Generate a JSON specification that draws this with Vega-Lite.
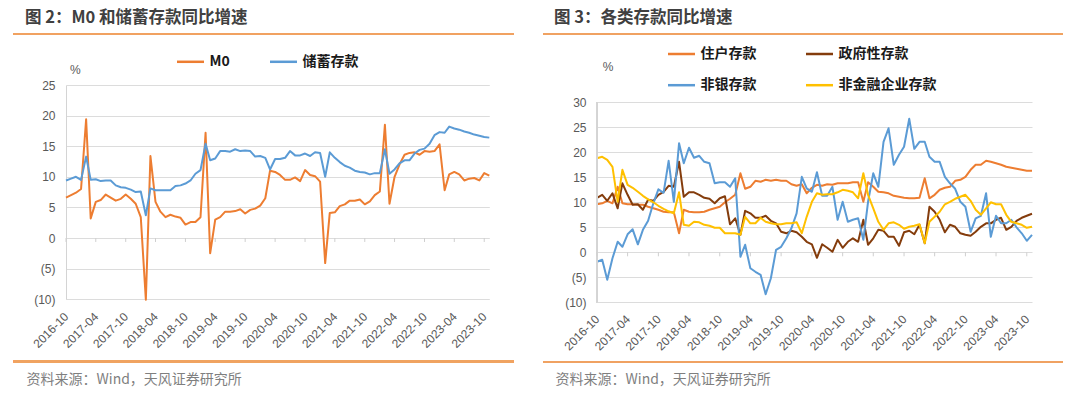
{
"$schema": "https://vega.github.io/schema/vega-lite/v6.json",
"background": "white",
"padding": {"left": 13, "top": 9, "right": 0, "bottom": 0},
"spacing": 27,
"align": "none",
"resolve": {"scale": {"color": "independent", "x": "independent", "y": "independent"}, "legend": {"color": "independent"}},
"config": {
  "view": {"stroke": null},
  "axis": {"labelFont": "Liberation Sans", "labelFontSize": 12, "labelColor": "#595959"},
  "title": {"font": "Noto Sans CJK SC", "fontSize": 16.5, "fontWeight": "bold", "color": "#404040", "anchor": "start", "baseline": "alphabetic", "offset": 7}
},
"datasets": {
"L": [
{"d":"2016-10","s":"M0","v":6.6},{"d":"2016-11","s":"M0","v":7.0},{"d":"2016-12","s":"M0","v":7.4},{"d":"2017-01","s":"M0","v":8.0},{"d":"2017-02","s":"M0","v":19.4},{"d":"2017-03","s":"M0","v":3.2},{"d":"2017-04","s":"M0","v":5.9},{"d":"2017-05","s":"M0","v":6.2},{"d":"2017-06","s":"M0","v":7.1},{"d":"2017-07","s":"M0","v":6.6},
{"d":"2017-08","s":"M0","v":6.1},{"d":"2017-09","s":"M0","v":6.4},{"d":"2017-10","s":"M0","v":7.1},{"d":"2017-11","s":"M0","v":6.4},{"d":"2017-12","s":"M0","v":5.6},{"d":"2018-01","s":"M0","v":3.4},{"d":"2018-02","s":"M0","v":-10.1},{"d":"2018-03","s":"M0","v":13.4},{"d":"2018-04","s":"M0","v":5.9},{"d":"2018-05","s":"M0","v":4.3},
{"d":"2018-06","s":"M0","v":3.4},{"d":"2018-07","s":"M0","v":3.8},{"d":"2018-08","s":"M0","v":3.5},{"d":"2018-09","s":"M0","v":3.3},{"d":"2018-10","s":"M0","v":2.2},{"d":"2018-11","s":"M0","v":2.6},{"d":"2018-12","s":"M0","v":2.6},{"d":"2019-01","s":"M0","v":3.4},{"d":"2019-02","s":"M0","v":17.2},{"d":"2019-03","s":"M0","v":-2.5},
{"d":"2019-04","s":"M0","v":3.0},{"d":"2019-05","s":"M0","v":3.4},{"d":"2019-06","s":"M0","v":4.3},{"d":"2019-07","s":"M0","v":4.3},{"d":"2019-08","s":"M0","v":4.4},{"d":"2019-09","s":"M0","v":4.7},{"d":"2019-10","s":"M0","v":4.0},{"d":"2019-11","s":"M0","v":4.6},{"d":"2019-12","s":"M0","v":4.8},{"d":"2020-01","s":"M0","v":5.3},
{"d":"2020-02","s":"M0","v":6.5},{"d":"2020-03","s":"M0","v":11.0},{"d":"2020-04","s":"M0","v":10.8},{"d":"2020-05","s":"M0","v":10.3},{"d":"2020-06","s":"M0","v":9.5},{"d":"2020-07","s":"M0","v":9.5},{"d":"2020-08","s":"M0","v":9.9},{"d":"2020-09","s":"M0","v":9.3},{"d":"2020-10","s":"M0","v":11.1},{"d":"2020-11","s":"M0","v":10.3},
{"d":"2020-12","s":"M0","v":10.1},{"d":"2021-01","s":"M0","v":9.2},{"d":"2021-02","s":"M0","v":-4.1},{"d":"2021-03","s":"M0","v":4.1},{"d":"2021-04","s":"M0","v":4.2},{"d":"2021-05","s":"M0","v":5.2},{"d":"2021-06","s":"M0","v":5.5},{"d":"2021-07","s":"M0","v":6.1},{"d":"2021-08","s":"M0","v":6.1},{"d":"2021-09","s":"M0","v":6.3},
{"d":"2021-10","s":"M0","v":5.5},{"d":"2021-11","s":"M0","v":6.0},{"d":"2021-12","s":"M0","v":7.0},{"d":"2022-01","s":"M0","v":7.6},{"d":"2022-02","s":"M0","v":18.5},{"d":"2022-03","s":"M0","v":5.6},{"d":"2022-04","s":"M0","v":10.0},{"d":"2022-05","s":"M0","v":12.0},{"d":"2022-06","s":"M0","v":13.6},{"d":"2022-07","s":"M0","v":13.9},
{"d":"2022-08","s":"M0","v":14.0},{"d":"2022-09","s":"M0","v":13.6},{"d":"2022-10","s":"M0","v":14.2},{"d":"2022-11","s":"M0","v":14.1},{"d":"2022-12","s":"M0","v":14.2},{"d":"2023-01","s":"M0","v":15.3},{"d":"2023-02","s":"M0","v":7.8},{"d":"2023-03","s":"M0","v":10.4},{"d":"2023-04","s":"M0","v":10.8},{"d":"2023-05","s":"M0","v":10.4},
{"d":"2023-06","s":"M0","v":9.4},{"d":"2023-07","s":"M0","v":9.7},{"d":"2023-08","s":"M0","v":9.8},{"d":"2023-09","s":"M0","v":9.4},{"d":"2023-10","s":"M0","v":10.6},{"d":"2023-11","s":"M0","v":10.2},
{"d":"2016-10","s":"储蓄存款","v":9.4},{"d":"2016-11","s":"储蓄存款","v":9.7},{"d":"2016-12","s":"储蓄存款","v":10.0},{"d":"2017-01","s":"储蓄存款","v":9.5},{"d":"2017-02","s":"储蓄存款","v":13.3},{"d":"2017-03","s":"储蓄存款","v":9.5},{"d":"2017-04","s":"储蓄存款","v":9.6},{"d":"2017-05","s":"储蓄存款","v":9.3},{"d":"2017-06","s":"储蓄存款","v":9.4},{"d":"2017-07","s":"储蓄存款","v":9.4},
{"d":"2017-08","s":"储蓄存款","v":8.6},{"d":"2017-09","s":"储蓄存款","v":8.3},{"d":"2017-10","s":"储蓄存款","v":8.2},{"d":"2017-11","s":"储蓄存款","v":7.9},{"d":"2017-12","s":"储蓄存款","v":7.5},{"d":"2018-01","s":"储蓄存款","v":7.6},{"d":"2018-02","s":"储蓄存款","v":3.7},{"d":"2018-03","s":"储蓄存款","v":8.1},{"d":"2018-04","s":"储蓄存款","v":7.8},{"d":"2018-05","s":"储蓄存款","v":7.8},
{"d":"2018-06","s":"储蓄存款","v":7.8},{"d":"2018-07","s":"储蓄存款","v":7.8},{"d":"2018-08","s":"储蓄存款","v":8.5},{"d":"2018-09","s":"储蓄存款","v":8.6},{"d":"2018-10","s":"储蓄存款","v":8.9},{"d":"2018-11","s":"储蓄存款","v":9.4},{"d":"2018-12","s":"储蓄存款","v":10.5},{"d":"2019-01","s":"储蓄存款","v":11.1},{"d":"2019-02","s":"储蓄存款","v":15.4},{"d":"2019-03","s":"储蓄存款","v":12.7},
{"d":"2019-04","s":"储蓄存款","v":13.0},{"d":"2019-05","s":"储蓄存款","v":14.2},{"d":"2019-06","s":"储蓄存款","v":14.2},{"d":"2019-07","s":"储蓄存款","v":14.1},{"d":"2019-08","s":"储蓄存款","v":14.5},{"d":"2019-09","s":"储蓄存款","v":14.2},{"d":"2019-10","s":"储蓄存款","v":14.3},{"d":"2019-11","s":"储蓄存款","v":14.2},{"d":"2019-12","s":"储蓄存款","v":13.3},{"d":"2020-01","s":"储蓄存款","v":13.4},
{"d":"2020-02","s":"储蓄存款","v":13.1},{"d":"2020-03","s":"储蓄存款","v":11.2},{"d":"2020-04","s":"储蓄存款","v":12.9},{"d":"2020-05","s":"储蓄存款","v":12.9},{"d":"2020-06","s":"储蓄存款","v":13.1},{"d":"2020-07","s":"储蓄存款","v":14.2},{"d":"2020-08","s":"储蓄存款","v":13.5},{"d":"2020-09","s":"储蓄存款","v":13.5},{"d":"2020-10","s":"储蓄存款","v":13.8},{"d":"2020-11","s":"储蓄存款","v":13.4},
{"d":"2020-12","s":"储蓄存款","v":14.0},{"d":"2021-01","s":"储蓄存款","v":13.9},{"d":"2021-02","s":"储蓄存款","v":10.0},{"d":"2021-03","s":"储蓄存款","v":14.0},{"d":"2021-04","s":"储蓄存款","v":13.1},{"d":"2021-05","s":"储蓄存款","v":12.4},{"d":"2021-06","s":"储蓄存款","v":11.8},{"d":"2021-07","s":"储蓄存款","v":11.5},{"d":"2021-08","s":"储蓄存款","v":11.0},{"d":"2021-09","s":"储蓄存款","v":10.8},
{"d":"2021-10","s":"储蓄存款","v":10.7},{"d":"2021-11","s":"储蓄存款","v":10.4},{"d":"2021-12","s":"储蓄存款","v":10.6},{"d":"2022-01","s":"储蓄存款","v":10.6},{"d":"2022-02","s":"储蓄存款","v":14.5},{"d":"2022-03","s":"储蓄存款","v":10.5},{"d":"2022-04","s":"储蓄存款","v":11.2},{"d":"2022-05","s":"储蓄存款","v":12.2},{"d":"2022-06","s":"储蓄存款","v":12.7},{"d":"2022-07","s":"储蓄存款","v":12.7},
{"d":"2022-08","s":"储蓄存款","v":13.8},{"d":"2022-09","s":"储蓄存款","v":14.4},{"d":"2022-10","s":"储蓄存款","v":14.6},{"d":"2022-11","s":"储蓄存款","v":15.4},{"d":"2022-12","s":"储蓄存款","v":16.8},{"d":"2023-01","s":"储蓄存款","v":17.3},{"d":"2023-02","s":"储蓄存款","v":17.2},{"d":"2023-03","s":"储蓄存款","v":18.2},{"d":"2023-04","s":"储蓄存款","v":17.9},{"d":"2023-05","s":"储蓄存款","v":17.7},
{"d":"2023-06","s":"储蓄存款","v":17.4},{"d":"2023-07","s":"储蓄存款","v":17.2},{"d":"2023-08","s":"储蓄存款","v":16.9},{"d":"2023-09","s":"储蓄存款","v":16.7},{"d":"2023-10","s":"储蓄存款","v":16.5},{"d":"2023-11","s":"储蓄存款","v":16.4}
],
"R": [
{"d":"2016-10","s":"住户存款","v":9.6},{"d":"2016-11","s":"住户存款","v":9.8},{"d":"2016-12","s":"住户存款","v":10.3},{"d":"2017-01","s":"住户存款","v":9.8},{"d":"2017-02","s":"住户存款","v":13.1},{"d":"2017-03","s":"住户存款","v":9.8},{"d":"2017-04","s":"住户存款","v":9.6},{"d":"2017-05","s":"住户存款","v":9.6},{"d":"2017-06","s":"住户存款","v":9.5},{"d":"2017-07","s":"住户存款","v":9.5},
{"d":"2017-08","s":"住户存款","v":9.1},{"d":"2017-09","s":"住户存款","v":8.8},{"d":"2017-10","s":"住户存款","v":8.5},{"d":"2017-11","s":"住户存款","v":8.1},{"d":"2017-12","s":"住户存款","v":8.0},{"d":"2018-01","s":"住户存款","v":8.0},{"d":"2018-02","s":"住户存款","v":3.8},{"d":"2018-03","s":"住户存款","v":8.5},{"d":"2018-04","s":"住户存款","v":8.1},{"d":"2018-05","s":"住户存款","v":8.0},
{"d":"2018-06","s":"住户存款","v":8.0},{"d":"2018-07","s":"住户存款","v":8.1},{"d":"2018-08","s":"住户存款","v":8.5},{"d":"2018-09","s":"住户存款","v":8.8},{"d":"2018-10","s":"住户存款","v":9.1},{"d":"2018-11","s":"住户存款","v":10.0},{"d":"2018-12","s":"住户存款","v":10.7},{"d":"2019-01","s":"住户存款","v":11.5},{"d":"2019-02","s":"住户存款","v":15.8},{"d":"2019-03","s":"住户存款","v":12.7},
{"d":"2019-04","s":"住户存款","v":13.1},{"d":"2019-05","s":"住户存款","v":14.3},{"d":"2019-06","s":"住户存款","v":14.1},{"d":"2019-07","s":"住户存款","v":14.5},{"d":"2019-08","s":"住户存款","v":14.3},{"d":"2019-09","s":"住户存款","v":14.5},{"d":"2019-10","s":"住户存款","v":14.3},{"d":"2019-11","s":"住户存款","v":14.3},{"d":"2019-12","s":"住户存款","v":13.6},{"d":"2020-01","s":"住户存款","v":13.3},
{"d":"2020-02","s":"住户存款","v":13.6},{"d":"2020-03","s":"住户存款","v":11.8},{"d":"2020-04","s":"住户存款","v":12.9},{"d":"2020-05","s":"住户存款","v":13.5},{"d":"2020-06","s":"住户存款","v":13.3},{"d":"2020-07","s":"住户存款","v":13.6},{"d":"2020-08","s":"住户存款","v":13.5},{"d":"2020-09","s":"住户存款","v":13.8},{"d":"2020-10","s":"住户存款","v":13.8},{"d":"2020-11","s":"住户存款","v":13.8},
{"d":"2020-12","s":"住户存款","v":14.0},{"d":"2021-01","s":"住户存款","v":14.0},{"d":"2021-02","s":"住户存款","v":10.1},{"d":"2021-03","s":"住户存款","v":14.0},{"d":"2021-04","s":"住户存款","v":13.1},{"d":"2021-05","s":"住户存款","v":12.1},{"d":"2021-06","s":"住户存款","v":12.0},{"d":"2021-07","s":"住户存款","v":11.8},{"d":"2021-08","s":"住户存款","v":11.3},{"d":"2021-09","s":"住户存款","v":11.1},
{"d":"2021-10","s":"住户存款","v":10.9},{"d":"2021-11","s":"住户存款","v":10.8},{"d":"2021-12","s":"住户存款","v":10.8},{"d":"2022-01","s":"住户存款","v":10.9},{"d":"2022-02","s":"住户存款","v":14.8},{"d":"2022-03","s":"住户存款","v":10.8},{"d":"2022-04","s":"住户存款","v":11.5},{"d":"2022-05","s":"住户存款","v":12.5},{"d":"2022-06","s":"住户存款","v":12.9},{"d":"2022-07","s":"住户存款","v":13.1},
{"d":"2022-08","s":"住户存款","v":14.3},{"d":"2022-09","s":"住户存款","v":14.5},{"d":"2022-10","s":"住户存款","v":15.1},{"d":"2022-11","s":"住户存款","v":16.5},{"d":"2022-12","s":"住户存款","v":17.5},{"d":"2023-01","s":"住户存款","v":17.5},{"d":"2023-02","s":"住户存款","v":18.3},{"d":"2023-03","s":"住户存款","v":18.1},{"d":"2023-04","s":"住户存款","v":17.8},{"d":"2023-05","s":"住户存款","v":17.5},
{"d":"2023-06","s":"住户存款","v":17.1},{"d":"2023-07","s":"住户存款","v":16.9},{"d":"2023-08","s":"住户存款","v":16.7},{"d":"2023-09","s":"住户存款","v":16.5},{"d":"2023-10","s":"住户存款","v":16.3},{"d":"2023-11","s":"住户存款","v":16.3},
{"d":"2016-10","s":"政府性存款","v":10.9},{"d":"2016-11","s":"政府性存款","v":11.5},{"d":"2016-12","s":"政府性存款","v":10.3},{"d":"2017-01","s":"政府性存款","v":11.8},{"d":"2017-02","s":"政府性存款","v":8.8},{"d":"2017-03","s":"政府性存款","v":13.8},{"d":"2017-04","s":"政府性存款","v":11.5},{"d":"2017-05","s":"政府性存款","v":9.5},{"d":"2017-06","s":"政府性存款","v":9.6},{"d":"2017-07","s":"政府性存款","v":8.5},
{"d":"2017-08","s":"政府性存款","v":10.5},{"d":"2017-09","s":"政府性存款","v":10.3},{"d":"2017-10","s":"政府性存款","v":11.5},{"d":"2017-11","s":"政府性存款","v":12.1},{"d":"2017-12","s":"政府性存款","v":13.3},{"d":"2018-01","s":"政府性存款","v":13.1},{"d":"2018-02","s":"政府性存款","v":18.1},{"d":"2018-03","s":"政府性存款","v":11.1},{"d":"2018-04","s":"政府性存款","v":12.0},{"d":"2018-05","s":"政府性存款","v":12.0},
{"d":"2018-06","s":"政府性存款","v":11.5},{"d":"2018-07","s":"政府性存款","v":10.9},{"d":"2018-08","s":"政府性存款","v":10.7},{"d":"2018-09","s":"政府性存款","v":9.8},{"d":"2018-10","s":"政府性存款","v":10.8},{"d":"2018-11","s":"政府性存款","v":11.2},{"d":"2018-12","s":"政府性存款","v":5.6},{"d":"2019-01","s":"政府性存款","v":6.8},{"d":"2019-02","s":"政府性存款","v":3.5},{"d":"2019-03","s":"政府性存款","v":8.3},
{"d":"2019-04","s":"政府性存款","v":7.8},{"d":"2019-05","s":"政府性存款","v":6.9},{"d":"2019-06","s":"政府性存款","v":6.9},{"d":"2019-07","s":"政府性存款","v":7.3},{"d":"2019-08","s":"政府性存款","v":6.3},{"d":"2019-09","s":"政府性存款","v":5.8},{"d":"2019-10","s":"政府性存款","v":4.1},{"d":"2019-11","s":"政府性存款","v":3.8},{"d":"2019-12","s":"政府性存款","v":4.3},{"d":"2020-01","s":"政府性存款","v":4.0},
{"d":"2020-02","s":"政府性存款","v":3.1},{"d":"2020-03","s":"政府性存款","v":2.1},{"d":"2020-04","s":"政府性存款","v":1.6},{"d":"2020-05","s":"政府性存款","v":-1.1},{"d":"2020-06","s":"政府性存款","v":1.6},{"d":"2020-07","s":"政府性存款","v":0.9},{"d":"2020-08","s":"政府性存款","v":0.1},{"d":"2020-09","s":"政府性存款","v":2.5},{"d":"2020-10","s":"政府性存款","v":0.9},{"d":"2020-11","s":"政府性存款","v":2.1},
{"d":"2020-12","s":"政府性存款","v":2.8},{"d":"2021-01","s":"政府性存款","v":2.1},{"d":"2021-02","s":"政府性存款","v":6.5},{"d":"2021-03","s":"政府性存款","v":1.5},{"d":"2021-04","s":"政府性存款","v":2.8},{"d":"2021-05","s":"政府性存款","v":4.5},{"d":"2021-06","s":"政府性存款","v":4.3},{"d":"2021-07","s":"政府性存款","v":3.1},{"d":"2021-08","s":"政府性存款","v":3.1},{"d":"2021-09","s":"政府性存款","v":1.3},
{"d":"2021-10","s":"政府性存款","v":4.0},{"d":"2021-11","s":"政府性存款","v":4.3},{"d":"2021-12","s":"政府性存款","v":3.6},{"d":"2022-01","s":"政府性存款","v":5.5},{"d":"2022-02","s":"政府性存款","v":1.8},{"d":"2022-03","s":"政府性存款","v":9.1},{"d":"2022-04","s":"政府性存款","v":8.1},{"d":"2022-05","s":"政府性存款","v":6.5},{"d":"2022-06","s":"政府性存款","v":4.0},{"d":"2022-07","s":"政府性存款","v":5.5},
{"d":"2022-08","s":"政府性存款","v":5.1},{"d":"2022-09","s":"政府性存款","v":3.8},{"d":"2022-10","s":"政府性存款","v":3.5},{"d":"2022-11","s":"政府性存款","v":3.3},{"d":"2022-12","s":"政府性存款","v":4.1},{"d":"2023-01","s":"政府性存款","v":5.1},{"d":"2023-02","s":"政府性存款","v":5.8},{"d":"2023-03","s":"政府性存款","v":5.8},{"d":"2023-04","s":"政府性存款","v":6.5},{"d":"2023-05","s":"政府性存款","v":6.9},
{"d":"2023-06","s":"政府性存款","v":4.5},{"d":"2023-07","s":"政府性存款","v":5.1},{"d":"2023-08","s":"政府性存款","v":6.3},{"d":"2023-09","s":"政府性存款","v":6.9},{"d":"2023-10","s":"政府性存款","v":7.3},{"d":"2023-11","s":"政府性存款","v":7.7},
{"d":"2016-10","s":"非银存款","v":-1.9},{"d":"2016-11","s":"非银存款","v":-1.5},{"d":"2016-12","s":"非银存款","v":-5.5},{"d":"2017-01","s":"非银存款","v":-1.2},{"d":"2017-02","s":"非银存款","v":2.1},{"d":"2017-03","s":"非银存款","v":1.1},{"d":"2017-04","s":"非银存款","v":3.6},{"d":"2017-05","s":"非银存款","v":4.6},{"d":"2017-06","s":"非银存款","v":1.6},{"d":"2017-07","s":"非银存款","v":4.5},
{"d":"2017-08","s":"非银存款","v":6.3},{"d":"2017-09","s":"非银存款","v":9.8},{"d":"2017-10","s":"非银存款","v":12.6},{"d":"2017-11","s":"非银存款","v":11.9},{"d":"2017-12","s":"非银存款","v":18.3},{"d":"2018-01","s":"非银存款","v":10.1},{"d":"2018-02","s":"非银存款","v":21.8},{"d":"2018-03","s":"非银存款","v":17.8},{"d":"2018-04","s":"非银存款","v":20.9},{"d":"2018-05","s":"非银存款","v":18.9},
{"d":"2018-06","s":"非银存款","v":19.3},{"d":"2018-07","s":"非银存款","v":18.1},{"d":"2018-08","s":"非银存款","v":17.8},{"d":"2018-09","s":"非银存款","v":13.8},{"d":"2018-10","s":"非银存款","v":14.0},{"d":"2018-11","s":"非银存款","v":14.0},{"d":"2018-12","s":"非银存款","v":13.1},{"d":"2019-01","s":"非银存款","v":14.8},{"d":"2019-02","s":"非银存款","v":-0.9},{"d":"2019-03","s":"非银存款","v":1.5},
{"d":"2019-04","s":"非银存款","v":-3.2},{"d":"2019-05","s":"非银存款","v":-3.9},{"d":"2019-06","s":"非银存款","v":-4.5},{"d":"2019-07","s":"非银存款","v":-8.4},{"d":"2019-08","s":"非银存款","v":-5.2},{"d":"2019-09","s":"非银存款","v":0.5},{"d":"2019-10","s":"非银存款","v":1.1},{"d":"2019-11","s":"非银存款","v":2.8},{"d":"2019-12","s":"非银存款","v":4.8},{"d":"2020-01","s":"非银存款","v":7.8},
{"d":"2020-02","s":"非银存款","v":15.1},{"d":"2020-03","s":"非银存款","v":12.8},{"d":"2020-04","s":"非银存款","v":12.1},{"d":"2020-05","s":"非银存款","v":16.0},{"d":"2020-06","s":"非银存款","v":11.3},{"d":"2020-07","s":"非银存款","v":11.3},{"d":"2020-08","s":"非银存款","v":13.1},{"d":"2020-09","s":"非银存款","v":6.5},{"d":"2020-10","s":"非银存款","v":10.1},{"d":"2020-11","s":"非银存款","v":6.1},
{"d":"2020-12","s":"非银存款","v":6.5},{"d":"2021-01","s":"非银存款","v":6.8},{"d":"2021-02","s":"非银存款","v":2.5},{"d":"2021-03","s":"非银存款","v":10.1},{"d":"2021-04","s":"非银存款","v":15.8},{"d":"2021-05","s":"非银存款","v":13.1},{"d":"2021-06","s":"非银存款","v":22.1},{"d":"2021-07","s":"非银存款","v":24.8},{"d":"2021-08","s":"非银存款","v":17.5},{"d":"2021-09","s":"非银存款","v":19.5},
{"d":"2021-10","s":"非银存款","v":21.1},{"d":"2021-11","s":"非银存款","v":26.7},{"d":"2021-12","s":"非银存款","v":20.7},{"d":"2022-01","s":"非银存款","v":22.1},{"d":"2022-02","s":"非银存款","v":22.1},{"d":"2022-03","s":"非银存款","v":19.1},{"d":"2022-04","s":"非银存款","v":18.1},{"d":"2022-05","s":"非银存款","v":18.1},{"d":"2022-06","s":"非银存款","v":15.1},{"d":"2022-07","s":"非银存款","v":13.8},
{"d":"2022-08","s":"非银存款","v":12.7},{"d":"2022-09","s":"非银存款","v":10.1},{"d":"2022-10","s":"非银存款","v":9.1},{"d":"2022-11","s":"非银存款","v":4.1},{"d":"2022-12","s":"非银存款","v":6.8},{"d":"2023-01","s":"非银存款","v":7.3},{"d":"2023-02","s":"非银存款","v":11.8},{"d":"2023-03","s":"非银存款","v":3.1},{"d":"2023-04","s":"非银存款","v":7.3},{"d":"2023-05","s":"非银存款","v":5.8},
{"d":"2023-06","s":"非银存款","v":5.8},{"d":"2023-07","s":"非银存款","v":6.5},{"d":"2023-08","s":"非银存款","v":5.0},{"d":"2023-09","s":"非银存款","v":3.8},{"d":"2023-10","s":"非银存款","v":2.3},{"d":"2023-11","s":"非银存款","v":3.5},
{"d":"2016-10","s":"非金融企业存款","v":18.8},{"d":"2016-11","s":"非金融企业存款","v":19.1},{"d":"2016-12","s":"非金融企业存款","v":18.5},{"d":"2017-01","s":"非金融企业存款","v":17.1},{"d":"2017-02","s":"非金融企业存款","v":10.1},{"d":"2017-03","s":"非金融企业存款","v":16.5},{"d":"2017-04","s":"非金融企业存款","v":13.5},{"d":"2017-05","s":"非金融企业存款","v":12.9},{"d":"2017-06","s":"非金融企业存款","v":12.1},{"d":"2017-07","s":"非金融企业存款","v":11.3},
{"d":"2017-08","s":"非金融企业存款","v":10.6},{"d":"2017-09","s":"非金融企业存款","v":10.0},{"d":"2017-10","s":"非金融企业存款","v":9.3},{"d":"2017-11","s":"非金融企业存款","v":8.7},{"d":"2017-12","s":"非金融企业存款","v":8.2},{"d":"2018-01","s":"非金融企业存款","v":7.8},{"d":"2018-02","s":"非金融企业存款","v":12.0},{"d":"2018-03","s":"非金融企业存款","v":5.5},{"d":"2018-04","s":"非金融企业存款","v":5.3},{"d":"2018-05","s":"非金融企业存款","v":6.1},
{"d":"2018-06","s":"非金融企业存款","v":6.0},{"d":"2018-07","s":"非金融企业存款","v":5.5},{"d":"2018-08","s":"非金融企业存款","v":5.3},{"d":"2018-09","s":"非金融企业存款","v":4.9},{"d":"2018-10","s":"非金融企业存款","v":4.9},{"d":"2018-11","s":"非金融企业存款","v":3.8},{"d":"2018-12","s":"非金融企业存款","v":3.8},{"d":"2019-01","s":"非金融企业存款","v":3.8},{"d":"2019-02","s":"非金融企业存款","v":3.5},{"d":"2019-03","s":"非金融企业存款","v":7.1},
{"d":"2019-04","s":"非金融企业存款","v":5.8},{"d":"2019-05","s":"非金融企业存款","v":5.8},{"d":"2019-06","s":"非金融企业存款","v":6.9},{"d":"2019-07","s":"非金融企业存款","v":6.1},{"d":"2019-08","s":"非金融企业存款","v":5.8},{"d":"2019-09","s":"非金融企业存款","v":5.6},{"d":"2019-10","s":"非金融企业存款","v":5.6},{"d":"2019-11","s":"非金融企业存款","v":5.8},{"d":"2019-12","s":"非金融企业存款","v":5.8},{"d":"2020-01","s":"非金融企业存款","v":6.0},
{"d":"2020-02","s":"非金融企业存款","v":3.8},{"d":"2020-03","s":"非金融企业存款","v":7.1},{"d":"2020-04","s":"非金融企业存款","v":10.1},{"d":"2020-05","s":"非金融企业存款","v":11.8},{"d":"2020-06","s":"非金融企业存款","v":11.5},{"d":"2020-07","s":"非金融企业存款","v":11.6},{"d":"2020-08","s":"非金融企业存款","v":11.6},{"d":"2020-09","s":"非金融企业存款","v":12.0},{"d":"2020-10","s":"非金融企业存款","v":12.5},{"d":"2020-11","s":"非金融企业存款","v":12.3},
{"d":"2020-12","s":"非金融企业存款","v":12.0},{"d":"2021-01","s":"非金融企业存款","v":10.8},{"d":"2021-02","s":"非金融企业存款","v":15.8},{"d":"2021-03","s":"非金融企业存款","v":11.5},{"d":"2021-04","s":"非金融企业存款","v":8.8},{"d":"2021-05","s":"非金融企业存款","v":6.1},{"d":"2021-06","s":"非金融企业存款","v":4.5},{"d":"2021-07","s":"非金融企业存款","v":5.8},{"d":"2021-08","s":"非金融企业存款","v":6.0},{"d":"2021-09","s":"非金融企业存款","v":5.5},
{"d":"2021-10","s":"非金融企业存款","v":4.7},{"d":"2021-11","s":"非金融企业存款","v":5.1},{"d":"2021-12","s":"非金融企业存款","v":5.3},{"d":"2022-01","s":"非金融企业存款","v":5.6},{"d":"2022-02","s":"非金融企业存款","v":1.8},{"d":"2022-03","s":"非金融企业存款","v":6.1},{"d":"2022-04","s":"非金融企业存款","v":7.1},{"d":"2022-05","s":"非金融企业存款","v":8.1},{"d":"2022-06","s":"非金融企业存款","v":9.6},{"d":"2022-07","s":"非金融企业存款","v":10.1},
{"d":"2022-08","s":"非金融企业存款","v":10.7},{"d":"2022-09","s":"非金融企业存款","v":11.1},{"d":"2022-10","s":"非金融企业存款","v":11.5},{"d":"2022-11","s":"非金融企业存款","v":10.3},{"d":"2022-12","s":"非金融企业存款","v":8.5},{"d":"2023-01","s":"非金融企业存款","v":7.5},{"d":"2023-02","s":"非金融企业存款","v":8.8},{"d":"2023-03","s":"非金融企业存款","v":10.0},{"d":"2023-04","s":"非金融企业存款","v":9.6},{"d":"2023-05","s":"非金融企业存款","v":9.6},
{"d":"2023-06","s":"非金融企业存款","v":7.5},{"d":"2023-07","s":"非金融企业存款","v":6.1},{"d":"2023-08","s":"非金融企业存款","v":5.8},{"d":"2023-09","s":"非金融企业存款","v":5.5},{"d":"2023-10","s":"非金融企业存款","v":4.9},{"d":"2023-11","s":"非金融企业存款","v":5.1}
]
},
"hconcat": [
{
  "width": 423.3, "height": 214.2,
  "title": {"text": "图 2：M0 和储蓄存款同比增速", "dx": 12},
  "data": {"name": "L", "format": {"parse": {"d": "date:'%Y-%m'"}}},
  "layer": [
    {"mark": {"type": "line", "strokeWidth": 2, "strokeJoin": "round"},
     "encoding": {
       "x": {"field": "d", "type": "temporal",
         "scale": {"domain": [{"year": 2016, "month": 10, "date": 1}, {"year": 2023, "month": 11, "date": 1}]},
         "axis": {"values": [{"year":2016,"month":10,"date":1},{"year":2017,"month":4,"date":1},{"year":2017,"month":10,"date":1},{"year":2018,"month":4,"date":1},{"year":2018,"month":10,"date":1},{"year":2019,"month":4,"date":1},{"year":2019,"month":10,"date":1},{"year":2020,"month":4,"date":1},{"year":2020,"month":10,"date":1},{"year":2021,"month":4,"date":1},{"year":2021,"month":10,"date":1},{"year":2022,"month":4,"date":1},{"year":2022,"month":10,"date":1},{"year":2023,"month":4,"date":1},{"year":2023,"month":10,"date":1}],
           "tickCount": 100,
           "format": "%Y-%m", "labelAngle": -45, "labelAlign": "right", "labelBaseline": "middle", "labelPadding": 15, "labelFlush": false, "labelOverlap": false, "labelBound": false,
           "ticks": false, "domain": false, "grid": false,
           "title": "资料来源：Wind，天风证券研究所", "titleX": -40, "titleY": 84, "titleAlign": "left", "titleAnchor": "start", "titleBaseline": "alphabetic",
           "titleFont": "Noto Sans CJK SC", "titleFontSize": 14, "titleFontWeight": "normal", "titleColor": "#7f7f7f"}},
       "y": {"field": "v", "type": "quantitative",
         "scale": {"domain": [-10, 25], "nice": false, "zero": false},
         "axis": {"values": [-10, -5, 0, 5, 10, 15, 20, 25], "tickCount": 100, "labelOverlap": false,
           "labelExpr": "datum.value < 0 ? '(' + (-datum.value) + ')' : datum.value + '\u00a0'",
           "grid": true, "gridColor": "#dcdcdc", "domain": true, "domainColor": "#d4d4d4", "ticks": false, "labelPadding": 11,
           "title": "%", "titleAngle": 0, "titleX": 3.5, "titleY": -12, "titleAlign": "left", "titleBaseline": "alphabetic",
           "titleFont": "Liberation Sans", "titleFontSize": 12, "titleFontWeight": "normal", "titleColor": "#595959"}},
       "color": {"field": "s", "type": "nominal",
         "scale": {"domain": ["M0", "储蓄存款"], "range": ["#ED7D31", "#5B9BD5"]},
         "legend": {"orient": "none", "legendX": 109.5, "legendY": -38.2, "direction": "horizontal", "title": null,
           "symbolType": "stroke", "symbolSize": 729, "symbolStrokeWidth": 2.5,
           "labelFont": "Noto Sans CJK SC", "labelFontSize": 14, "labelFontWeight": "bold", "labelColor": "#1a1a1a",
           "labelOffset": 4, "columnPadding": 34, "padding": 0}}
     }},
    {"transform": [{"filter": "datum.s == 'M0' && (month(datum.d) == 3 || month(datum.d) == 9)"}],
     "mark": {"type": "rule", "color": "#cfcfcf", "strokeWidth": 1},
     "encoding": {"x": {"field": "d", "type": "temporal"}, "y": {"datum": 0}, "y2": {"datum": -0.65}}},
    {"mark": {"type": "rule", "color": "#F0A262", "strokeWidth": 1.5},
     "encoding": {"x": {"datum": {"year": 2015, "month": 11, "date": 17}, "type": "temporal"}, "x2": {"datum": {"year": 2024, "month": 3, "date": 29}}, "y": {"datum": 33.33}}},
    {"mark": {"type": "rule", "color": "#F0A262", "strokeWidth": 1.5},
     "encoding": {"x": {"datum": {"year": 2015, "month": 11, "date": 17}, "type": "temporal"}, "x2": {"datum": {"year": 2024, "month": 3, "date": 29}}, "y": {"datum": -20.2}}}
  ]
},
{
  "width": 435, "height": 217.3,
  "title": {"text": "图 3：各类存款同比增速", "dx": 11.4},
  "data": {"name": "R", "format": {"parse": {"d": "date:'%Y-%m'"}}},
  "layer": [
    {"mark": {"type": "line", "strokeWidth": 2, "strokeJoin": "round"},
     "encoding": {
       "x": {"field": "d", "type": "temporal",
         "scale": {"domain": [{"year": 2016, "month": 10, "date": 1}, {"year": 2023, "month": 11, "date": 1}]},
         "axis": {"values": [{"year":2016,"month":10,"date":1},{"year":2017,"month":4,"date":1},{"year":2017,"month":10,"date":1},{"year":2018,"month":4,"date":1},{"year":2018,"month":10,"date":1},{"year":2019,"month":4,"date":1},{"year":2019,"month":10,"date":1},{"year":2020,"month":4,"date":1},{"year":2020,"month":10,"date":1},{"year":2021,"month":4,"date":1},{"year":2021,"month":10,"date":1},{"year":2022,"month":4,"date":1},{"year":2022,"month":10,"date":1},{"year":2023,"month":4,"date":1},{"year":2023,"month":10,"date":1}],
           "tickCount": 100,
           "format": "%Y-%m", "labelAngle": -45, "labelAlign": "right", "labelBaseline": "middle", "labelPadding": 14.5, "labelFlush": false, "labelOverlap": false, "labelBound": false,
           "ticks": false, "domain": false, "grid": false,
           "title": "资料来源：Wind，天风证券研究所", "titleX": -42, "titleY": 80.7, "titleAlign": "left", "titleAnchor": "start", "titleBaseline": "alphabetic",
           "titleFont": "Noto Sans CJK SC", "titleFontSize": 14, "titleFontWeight": "normal", "titleColor": "#7f7f7f"}},
       "y": {"field": "v", "type": "quantitative",
         "scale": {"domain": [-10, 33.46], "nice": false, "zero": false},
         "axis": {"values": [-10, -5, 0, 5, 10, 15, 20, 25, 30], "tickCount": 100, "labelOverlap": false,
           "labelExpr": "datum.value < 0 ? '(' + (-datum.value) + ')' : datum.value + '\u00a0'",
           "grid": true, "gridColor": "#dcdcdc", "domain": false, "ticks": false, "labelPadding": 11,
           "title": "%", "titleAngle": 0, "titleX": 5.3, "titleY": -15, "titleAlign": "left", "titleBaseline": "alphabetic",
           "titleFont": "Liberation Sans", "titleFontSize": 12, "titleFontWeight": "normal", "titleColor": "#595959"}},
       "color": {"field": "s", "type": "nominal",
         "scale": {"domain": ["住户存款", "政府性存款", "非银存款", "非金融企业存款"], "range": ["#ED7D31", "#843C0C", "#5B9BD5", "#FFC000"]},
         "legend": {"orient": "none", "legendX": 69.5, "legendY": -46, "direction": "horizontal", "columns": 2, "title": null,
           "symbolType": "stroke", "symbolSize": 729, "symbolStrokeWidth": 2.5,
           "labelFont": "Noto Sans CJK SC", "labelFontSize": 14, "labelFontWeight": "bold", "labelColor": "#1a1a1a",
           "labelOffset": 4, "columnPadding": 44, "rowPadding": 9.2, "padding": 0}}
     }},
    {"mark": {"type": "rule", "color": "#d4d4d4", "strokeWidth": 1},
     "encoding": {"x": {"datum": {"year": 2016, "month": 10, "date": 1}, "type": "temporal"}, "y": {"datum": -10}, "y2": {"datum": 30}}},
    {"transform": [{"filter": "datum.s == '住户存款' && (month(datum.d) == 3 || month(datum.d) == 9)"}],
     "mark": {"type": "rule", "color": "#cfcfcf", "strokeWidth": 1},
     "encoding": {"x": {"field": "d", "type": "temporal"}, "y": {"datum": 0}, "y2": {"datum": -0.8}}},
    {"mark": {"type": "rule", "color": "#F0A262", "strokeWidth": 1.5},
     "encoding": {"x": {"datum": {"year": 2015, "month": 11, "date": 17}, "type": "temporal"}, "x2": {"datum": {"year": 2024, "month": 4, "date": 29}}, "y": {"datum": 43.6}}},
    {"mark": {"type": "rule", "color": "#F0A262", "strokeWidth": 1.5},
     "encoding": {"x": {"datum": {"year": 2015, "month": 11, "date": 17}, "type": "temporal"}, "x2": {"datum": {"year": 2024, "month": 4, "date": 29}}, "y": {"datum": -21.88}}}
  ]
}
]
}
